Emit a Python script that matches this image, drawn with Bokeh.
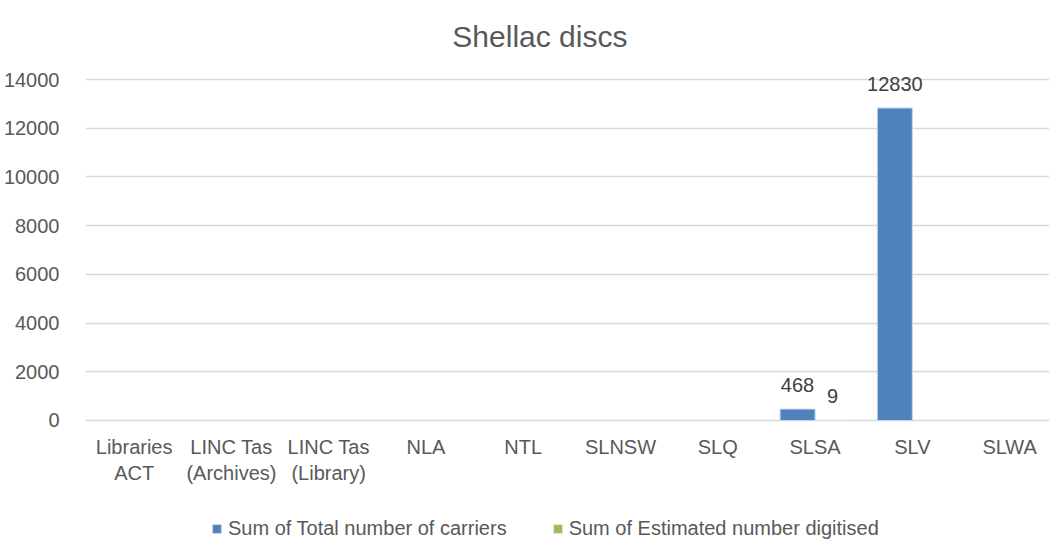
import numpy as np
from bokeh.plotting import figure
from bokeh.models import (ColumnDataSource, Range1d, FixedTicker, Legend, LegendItem, LabelSet, Label)
from bokeh.core.properties import value
from bokeh.embed import file_html
from bokeh.resources import INLINE

categories = ["Libraries\nACT", "LINC Tas\n(Archives)", "LINC Tas\n(Library)", "NLA", "NTL",
              "SLNSW", "SLQ", "SLSA", "SLV", "SLWA"]
total_carriers = [None, None, None, None, None, None, None, 468, 12830, None]
est_digitised = [None, None, None, None, None, None, None, 9, None, None]
y_ticks = [0, 2000, 4000, 6000, 8000, 10000, 12000, 14000]
title_text = "Shellac discs"
series_names = ["Sum of Total number of carriers", "Sum of Estimated number digitised"]

FONT = "Liberation Sans"
FS = "20px"
BLUE = "#4f81bd"
GREEN = "#9bbb59"
GREY = "#595959"

n = len(categories)
centers = [i + 0.5 for i in range(n)]
off = 0.18
bw = 0.36

def clean(v):
    return [np.nan if x is None else x for x in v]

src_b = ColumnDataSource(dict(x=[c - off for c in centers], top=clean(total_carriers)))
src_g = ColumnDataSource(dict(x=[c + off for c in centers], top=clean(est_digitised)))

# frame spans the whole height so title / category labels / legend are not clipped
p = figure(frame_width=964, frame_height=540, output_backend="svg", toolbar_location=None,
           x_range=Range1d(0, 9.91), y_range=Range1d(-4927, 17244),
           min_border_left=77, min_border_right=0, min_border_top=0, min_border_bottom=0)
p.outline_line_color = None
p.title.visible = False

rb = p.vbar(x="x", top="top", bottom=0, width=bw, source=src_b, fill_color=BLUE,
            line_color="#c6d6ea", line_width=1)
rg = p.vbar(x="x", top="top", bottom=0, width=bw, source=src_g, fill_color=GREEN,
            line_color="#dbe8c6", line_width=1)

# title
p.add_layout(Label(x=4.671, y=y_ticks[-1], y_offset=43, text=title_text, text_align="center",
                   text_baseline="alphabetic", text_font=FONT, text_font_size="30px",
                   text_color=GREY))

# data labels
lx, ly, lt = [], [], []
for xs, vals in ((src_b.data["x"], total_carriers), (src_g.data["x"], est_digitised)):
    for x, v in zip(xs, vals):
        if v is not None:
            lx.append(x); ly.append(v); lt.append(str(v))
lab_src = ColumnDataSource(dict(x=lx, y=ly, t=lt))
p.add_layout(LabelSet(x="x", y="y", text="t", source=lab_src, text_align="center",
                      text_baseline="alphabetic", y_offset=17, text_font=value(FONT),
                      text_font_size=value(FS), text_color="#404040"))

# category labels (x axis), each line centred separately
line1 = [c.split("\n")[0] for c in categories]
line2 = [c.split("\n")[1] if "\n" in c else "" for c in categories]
for lines, yoff in ((line1, -16), (line2, -42)):
    src = ColumnDataSource(dict(x=centers, y=[0] * n, t=lines))
    p.add_layout(LabelSet(x="x", y="y", text="t", source=src, text_align="center",
                          text_baseline="top", y_offset=yoff, text_font=value(FONT),
                          text_font_size=value(FS), text_color=GREY))
p.xaxis.visible = False

# y axis
p.yaxis.ticker = FixedTicker(ticks=y_ticks)
ax = p.yaxis[0]
ax.axis_line_color = None
ax.major_tick_line_color = None
ax.minor_tick_line_color = None
ax.major_label_text_font = FONT
ax.major_label_text_font_size = FS
ax.major_label_text_color = GREY
ax.major_label_standoff = 20

p.xgrid.grid_line_color = None
p.ygrid.ticker = FixedTicker(ticks=y_ticks)
p.ygrid.grid_line_color = "#d9d9d9"
p.ygrid.grid_line_width = 1.5

legend = Legend(items=[LegendItem(label=series_names[0], renderers=[rb]),
                       LegendItem(label=series_names[1], renderers=[rg])],
                orientation="horizontal", location=(126, 0), spacing=45,
                glyph_width=11, glyph_height=11, label_standoff=6,
                label_text_font=FONT, label_text_font_size=FS, label_text_color=GREY,
                border_line_color=None, background_fill_alpha=0, padding=2, margin=0)
p.add_layout(legend, "center")

open("out.html", "w").write(file_html(p, INLINE))
